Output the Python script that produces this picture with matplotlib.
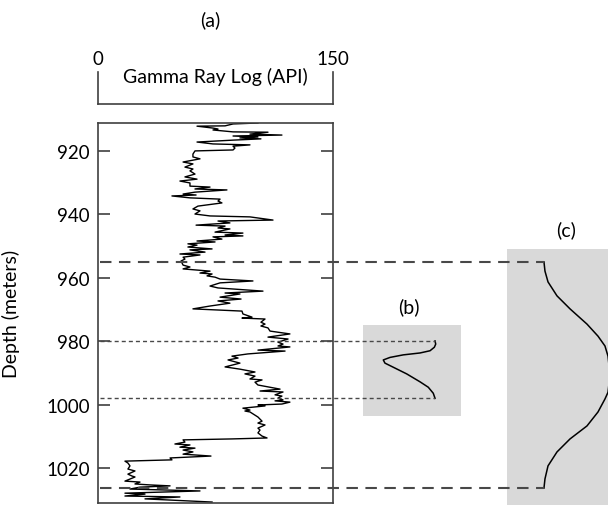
import numpy as np
import matplotlib
matplotlib.use('Agg')
from matplotlib import pyplot as plt
from matplotlib.lines import Line2D
from matplotlib.transforms import blended_transform_factory

plt.rcParams['font.family'] = ['Lato', 'DejaVu Sans']

# gamma ray log (depth in m, GR in API)
depth = [911.2, 911.5, 912.1, 912.2, 912.8, 913.1, 913.4, 914.0, 914.1, 914.7,
         915.0, 915.3, 915.6, 915.9, 916.2, 916.6, 917.2, 917.8, 918.1, 918.5,
         919.1, 919.7, 920.0, 921.0, 921.9, 922.5, 923.5, 924.1, 925.1, 925.7,
         926.3, 927.3, 928.2, 928.9, 929.5, 930.1, 931.1, 931.4, 932.0, 932.3,
         933.0, 933.6, 933.9, 934.2, 934.8, 935.2, 935.8, 936.4, 937.4, 938.3,
         938.9, 939.9, 940.5, 940.8, 941.8, 942.1, 942.7, 943.4, 943.7, 944.3,
         944.6, 945.6, 945.9, 946.5, 946.8, 947.1, 947.8, 948.4, 948.7, 949.3,
         949.7, 950.3, 950.6, 950.9, 951.2, 951.9, 952.5, 952.8, 953.5, 954.1,
         954.7, 955.3, 956.0, 956.6, 957.2, 957.9, 958.5, 958.8, 959.4, 959.8,
         960.4, 961.0, 961.6, 962.6, 963.2, 964.2, 964.8, 965.1, 966.1, 966.7,
         967.3, 968.0, 968.9, 969.8, 970.5, 971.4, 972.4, 972.7, 973.0, 974.0,
         974.6, 975.2, 975.8, 976.8, 977.7, 978.7, 979.3, 980.3, 980.9, 981.5,
         981.8, 982.8, 983.1, 984.0, 984.7, 985.3, 985.9, 986.9, 988.1, 988.8,
         989.7, 990.3, 991.0, 991.9, 992.2, 992.9, 993.8, 995.1, 995.7, 996.0,
         996.9, 997.3, 997.9, 998.5, 998.8, 999.2, 999.8, 1000.1, 1000.4, 1001.1,
         1001.7, 1002.0, 1002.3, 1003.9, 1005.2, 1005.8, 1006.4, 1007.4, 1008.0, 1008.9,
         1009.9, 1010.5, 1010.8, 1011.1, 1011.8, 1012.4, 1012.7, 1013.4, 1013.7, 1014.3,
         1014.9, 1015.6, 1016.2, 1016.8, 1017.4, 1017.8, 1018.4, 1019.3, 1020.3, 1020.9,
         1021.9, 1022.5, 1022.8, 1024.1, 1024.4, 1025.0, 1025.3, 1025.6, 1026.0, 1026.6,
         1027.2, 1027.9, 1028.2, 1028.8, 1029.1, 1029.7, 1030.7]
gamma = [102.1, 86.2, 81.1, 63.2, 73.4, 76.6, 73.4, 86.2, 108.5, 97.0,
         117.4, 86.2, 102.1, 90.6, 104.0, 86.2, 63.2, 73.4, 97.0, 86.2,
         87.4, 86.2, 61.9, 60.6, 60.6, 65.1, 54.3, 60.6, 55.5, 60.6,
         58.7, 61.9, 55.5, 63.2, 52.3, 58.7, 58.7, 71.5, 61.9, 82.3,
         61.9, 54.3, 62.6, 47.2, 58.7, 77.9, 76.6, 79.1, 63.8, 60.6,
         65.1, 61.9, 71.5, 97.0, 111.7, 76.6, 84.2, 62.6, 81.1, 76.6,
         84.2, 74.7, 92.5, 81.1, 92.5, 73.4, 79.1, 63.2, 74.7, 57.4,
         63.2, 57.4, 65.1, 72.8, 58.7, 68.3, 52.3, 65.1, 54.3, 55.5,
         53.0, 53.6, 54.3, 58.7, 54.3, 71.5, 65.1, 72.8, 69.6, 74.7,
         77.9, 98.9, 77.9, 71.5, 76.6, 105.3, 81.1, 90.6, 77.9, 91.3,
         76.6, 84.2, 71.5, 60.6, 91.9, 92.5, 98.3, 91.9, 106.6, 104.0,
         106.6, 104.0, 108.5, 109.8, 122.5, 108.5, 121.3, 114.9, 118.1, 114.9,
         122.5, 102.1, 119.4, 95.7, 85.5, 89.4, 83.0, 90.6, 81.1, 90.6,
         100.2, 93.8, 100.2, 97.0, 104.7, 100.2, 102.1, 116.2, 103.4, 118.1,
         113.0, 117.4, 114.9, 118.1, 113.0, 122.5, 117.4, 102.1, 106.6, 92.5,
         97.0, 93.8, 97.0, 102.1, 104.7, 102.1, 106.6, 102.1, 103.4, 102.1,
         104.7, 107.9, 85.5, 54.3, 55.5, 49.1, 58.7, 52.3, 61.9, 54.3,
         60.6, 54.3, 72.1, 46.0, 47.2, 17.2, 19.1, 20.4, 19.1, 23.6,
         19.1, 21.7, 23.6, 17.2, 26.8, 23.6, 33.2, 46.0, 26.8, 20.4,
         65.1, 17.2, 30.0, 17.2, 52.3, 30.0, 72.8]

depth_ticks = [920, 940, 960, 980, 1000, 1020]
gr_ticks = [0, 150]

# (b) short-window curve
b_depth = [979.9, 980.9, 981.9, 983.0, 983.7, 984.3, 985.1, 985.9, 986.9, 988.2,
           990.3, 992.8, 994.5, 996.4, 998.0]
b_val = [73.5, 74.2, 72.8, 68.4, 58.2, 41.1, 27.6, 20.7, 22.4, 30.9,
         44.6, 58.2, 66.6, 71.7, 73.5]

# (c) long-window curve
c_depth = [955.0, 957.9, 961.3, 965.7, 969.8, 974.6, 978.4, 981.5, 984.7, 990.6,
           996.1, 998.2, 1002.3, 1006.7, 1010.8, 1014.9, 1019.3, 1023.4, 1026.3]
c_val = [36.6, 37.6, 40.6, 49.5, 62.4, 79.2, 90.1, 97.0, 100.0, 102.0,
         100.0, 97.0, 90.1, 79.2, 62.4, 49.5, 40.6, 37.6, 36.6]

outer_depths = [955.0, 1026.3]
inner_depths = [979.9, 998.0]

W, H = 608, 506
fig = plt.figure(figsize=(W / 100, H / 100), dpi=100)


def box(x0, y0, x1, y1):
    return [x0 / W, 1 - y1 / H, (x1 - x0) / W, (y1 - y0) / H]


spine_col = '#404040'

# main log
ax = fig.add_axes(box(98, 124, 333, 504))
ax.plot(gamma, depth, color='black', lw=1.0)
ax.set_xlim(0, 150)
ax.set_ylim(1031.0, 911.2)
ax.set_xticks([])
ax.set_yticks(depth_ticks)
ax.tick_params(axis='y', direction='in', length=8.5, width=1.2, color=spine_col,
               left=True, right=True, labelsize=13.5, pad=6)
for s in ax.spines.values():
    s.set_color(spine_col)
    s.set_linewidth(1.2)
ax.set_ylabel('Depth (meters)', fontsize=14)
ax.yaxis.set_label_coords(-0.33, 0.5)


def depth_at(ypx):
    return ax.transData.inverted().transform((0, H - ypx))[1]


# scale bracket on top
axt = fig.add_axes(box(98, 73, 333, 105))
axt.set_xlim(0, 150)
axt.set_ylim(0, 1)
axt.spines['top'].set_visible(False)
for s in ['left', 'right', 'bottom']:
    axt.spines[s].set_color(spine_col)
    axt.spines[s].set_linewidth(1.2)
axt.set_yticks([])
axt.xaxis.tick_top()
axt.set_xticks(gr_ticks)
axt.tick_params(axis='x', length=0, labelsize=13.5, pad=3.5)
axt.patch.set_visible(False)
axt.text(0.5, 0.69, 'Gamma Ray Log (API)', transform=axt.transAxes,
         ha='center', va='baseline', fontsize=14)

# panel (b)
axb = fig.add_axes(box(363, 326, 461, 417))
axb.set_facecolor('#d9d9d9')
axb.plot(b_val, b_depth, color='black', lw=1.1)
axb.set_xlim(0, 100)
axb.set_ylim(depth_at(417), depth_at(326))
axb.set_xticks([])
axb.set_yticks([])
for s in axb.spines.values():
    s.set_visible(False)

# panel (c)
axc = fig.add_axes(box(507, 250, 608, 506))
axc.set_facecolor('#d9d9d9')
axc.plot(c_val, c_depth, color='black', lw=1.1)
axc.set_xlim(0, 100)
axc.set_ylim(depth_at(506), depth_at(250))
axc.set_xticks([])
axc.set_yticks([])
for s in axc.spines.values():
    s.set_visible(False)

fig.text(210 / W, 1 - 20 / H, '(a)', ha='center', va='center', fontsize=14)
fig.text(408.5 / W, 1 - 307.5 / H, '(b)', ha='center', va='center', fontsize=14)
fig.text(566.5 / W, 1 - 230.5 / H, '(c)', ha='center', va='center', fontsize=14)

# dashed connectors
tr = blended_transform_factory(fig.transFigure, ax.transData)
to_fig = fig.transFigure.inverted()
x_start = 100 / W
for d, v, a in [(outer_depths[0], c_val[0], axc), (outer_depths[1], c_val[-1], axc)]:
    x_end = to_fig.transform(a.transData.transform((v, d)))[0]
    fig.add_artist(Line2D([x_start, x_end], [d, d], transform=tr, color='#484848',
                          lw=1.5, dashes=(5.5, 3.6)))
for d, v, a in [(inner_depths[0], b_val[0], axb), (inner_depths[1], b_val[-1], axb)]:
    x_end = to_fig.transform(a.transData.transform((v, d)))[0]
    fig.add_artist(Line2D([x_start, x_end], [d, d], transform=tr, color='#484848',
                          lw=1.0, dashes=(2.9, 2.2)))

fig.savefig('out.png', dpi=100)
